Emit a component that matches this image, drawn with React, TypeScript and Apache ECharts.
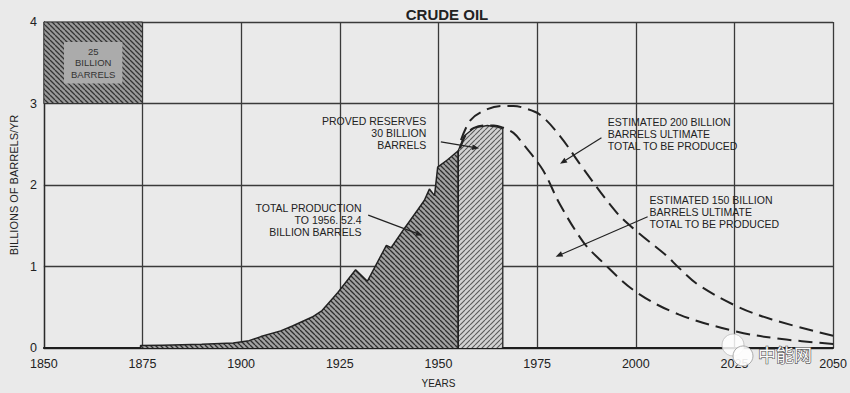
import React, { useEffect, useRef } from "react";
import * as echarts from "echarts";

// ---- data (years, billions of barrels per year) ----
const productionYears = [1874.5, 1874.5, 1880, 1890, 1898, 1902, 1905, 1910, 1913, 1918, 1920.5, 1924.5, 1929, 1932, 1936.8, 1938, 1941.4, 1944.8, 1946.4, 1947.7, 1949, 1949.8, 1952.3, 1955, 1955];
const productionValues = [0, 0.03, 0.035, 0.045, 0.06, 0.09, 0.14, 0.21, 0.27, 0.38, 0.46, 0.68, 0.96, 0.82, 1.26, 1.23, 1.47, 1.7, 1.81, 1.95, 1.87, 2.22, 2.31, 2.42, 0];

const reserveYears = [1955, 1955, 1956.5, 1959, 1962.4, 1965, 1966.3, 1966.3];
const reserveValues = [0, 2.42, 2.6, 2.7, 2.73, 2.71, 2.69, 0];

const est150Years = [1955.5, 1957, 1959, 1962, 1964, 1966, 1969, 1971.5, 1976.5, 1980.8, 1986.7, 1991, 2000, 2011, 2025.7, 2037, 2050];
const est150Values = [2.45, 2.62, 2.7, 2.73, 2.73, 2.71, 2.64, 2.5, 2.18, 1.76, 1.3, 1.08, 0.69, 0.41, 0.2, 0.11, 0.05];

const est200Years = [1955.7, 1958.2, 1962.4, 1966, 1969, 1972, 1975.8, 1980.8, 1986.7, 1995, 2000, 2007.6, 2011, 2016, 2025.7, 2034.5, 2050];
const est200Values = [2.55, 2.8, 2.93, 2.97, 2.97, 2.94, 2.86, 2.6, 2.2, 1.67, 1.44, 1.14, 0.98, 0.77, 0.51, 0.35, 0.15];

const boxYears = [1850, 1875];
const boxValues = [3, 4];
const boxLabel = "25\nBILLION\nBARRELS";

const xMin = 1850, xMax = 2050, xStep = 25;
const yMin = 0, yMax = 4, yStep = 1;

const title = "CRUDE OIL";
const xName = "YEARS";
const yName = "BILLIONS OF BARRELS/YR";

// annotations: text anchor [year, value], arrow from / to [year, value]
const annotations = [
  { text: "PROVED RESERVES\n30 BILLION\nBARRELS", at: [1946.9, 2.86], align: "right", from: [1950.6, 2.53], to: [1960.3, 2.45] },
  { text: "TOTAL PRODUCTION\nTO 1956. 52.4\nBILLION BARRELS", at: [1930.5, 1.79], align: "right", from: [1932.2, 1.63], to: [1946.0, 1.38] },
  { text: "ESTIMATED 200 BILLION\nBARRELS ULTIMATE\nTOTAL TO BE PRODUCED", at: [1992.9, 2.85], align: "left", from: [1991.3, 2.58], to: [1980.8, 2.26] },
  { text: "ESTIMATED 150 BILLION\nBARRELS ULTIMATE\nTOTAL TO BE PRODUCED", at: [2003.5, 1.89], align: "left", from: [2003.0, 1.61], to: [1979.7, 1.12] },
];

const FONT = '"Liberation Sans", Arial, Helvetica, sans-serif';
const INK = "#222";

function hatch(bg: string, fg: string, dir: "\\" | "/", size: number, lw: number) {
  const c = document.createElement("canvas");
  c.width = size;
  c.height = size;
  const ctx = c.getContext("2d")!;
  ctx.fillStyle = bg;
  ctx.fillRect(0, 0, size, size);
  ctx.strokeStyle = fg;
  ctx.lineWidth = lw;
  ctx.beginPath();
  for (let k = -1; k <= 1; k++) {
    if (dir === "\\") {
      ctx.moveTo(k * size, 0);
      ctx.lineTo(k * size + size, size);
    } else {
      ctx.moveTo(k * size, size);
      ctx.lineTo(k * size + size, 0);
    }
  }
  ctx.stroke();
  return { image: c.toDataURL(), repeat: "repeat", imageWidth: size, imageHeight: size } as any;
}

function zip(xs: number[], ys: number[]) {
  return xs.map((x, i) => [x, ys[i]]);
}

export default function App() {
  const ref = useRef<HTMLDivElement>(null);

  useEffect(() => {
    document.body.style.margin = "0";
    const chart = echarts.init(ref.current!, undefined, { renderer: "svg" });

    const darkHatch = hatch("#a2a2a2", "#2e2e2e", "\\", 5, 1.3);
    const boxHatch = hatch("#9a9a9a", "#333", "\\", 5, 1.3);
    const lightHatch = hatch("#d2d2d2", "#5a5a5a", "/", 5, 1.1);

    const option: any = {
      animation: false,
      backgroundColor: "#eaeaea",
      title: {
        text: title,
        left: 442,
        top: 2,
        textAlign: "center",
        textStyle: { fontFamily: FONT, fontWeight: "bold", fontSize: 15, color: INK },
      },
      grid: { left: 40, right: 15, top: 22, bottom: 43 },
      xAxis: {
        type: "value",
        min: xMin,
        max: xMax,
        interval: xStep,
        name: xName,
        nameLocation: "middle",
        nameGap: 30,
        nameTextStyle: { fontFamily: FONT, fontSize: 10, color: INK },
        axisLine: { show: true, onZero: false, lineStyle: { color: "#1e1e1e", width: 2 } },
        axisTick: { show: false },
        axisLabel: { fontFamily: FONT, fontSize: 12.5, color: INK, margin: 9, formatter: (v: number) => String(v) },
        splitLine: { show: true, lineStyle: { color: "#3a3a3a", width: 1.3 } },
      },
      yAxis: {
        type: "value",
        min: yMin,
        max: yMax,
        interval: yStep,
        name: yName,
        nameLocation: "middle",
        nameGap: 23,
        nameTextStyle: { fontFamily: FONT, fontSize: 11, color: INK },
        axisLine: { show: true, lineStyle: { color: "#2a2a2a", width: 1.3 } },
        axisTick: { show: false },
        axisLabel: { fontFamily: FONT, fontSize: 12.5, color: INK, margin: 7 },
        splitLine: { show: true, lineStyle: { color: "#3a3a3a", width: 1.3 } },
      },
      series: [
        {
          name: "production",
          type: "line",
          data: zip(productionYears, productionValues),
          showSymbol: false,
          lineStyle: { color: INK, width: 1.5 },
          areaStyle: { color: darkHatch, opacity: 1 },
          z: 3,
          markArea: {
            silent: true,
            itemStyle: { color: boxHatch, borderColor: "#333", borderWidth: 1 },
            label: {
              show: true,
              position: "inside",
              fontFamily: FONT,
              fontSize: 9.5,
              lineHeight: 11.5,
              color: "#333",
              backgroundColor: "#ababab",
              padding: [4, 7, 3, 7],
              align: "center",
            },
            data: [
              [
                { name: boxLabel, xAxis: boxYears[0], yAxis: boxValues[0] },
                { xAxis: boxYears[1], yAxis: boxValues[1] },
              ],
            ],
          },
        },
        {
          name: "reserves",
          type: "line",
          data: zip(reserveYears, reserveValues),
          showSymbol: false,
          lineStyle: { color: INK, width: 1.3 },
          areaStyle: { color: lightHatch, opacity: 1 },
          z: 3,
        },
        {
          name: "est150",
          type: "line",
          data: zip(est150Years, est150Values),
          smooth: 0.35,
          showSymbol: false,
          lineStyle: { color: INK, width: 2, type: [14, 7] },
          z: 4,
        },
        {
          name: "est200",
          type: "line",
          data: zip(est200Years, est200Values),
          smooth: 0.35,
          showSymbol: false,
          lineStyle: { color: INK, width: 2, type: [14, 7] },
          z: 4,
        },
      ],
    };

    chart.setOption(option);

    const px = (p: number[]) => chart.convertToPixel({ gridIndex: 0 }, p) as number[];
    const graphics: any[] = [];
    annotations.forEach((a) => {
      const [tx, ty] = px(a.at);
      graphics.push({
        type: "text",
        x: tx,
        y: ty,
        z: 10,
        style: {
          text: a.text,
          fill: INK,
          fontFamily: FONT,
          fontSize: 10.5,
          lineHeight: 12,
          align: a.align,
          verticalAlign: "top",
        },
      });
      const [x1, y1] = px(a.from);
      const [x2, y2] = px(a.to);
      const ang = Math.atan2(y2 - y1, x2 - x1);
      const L = 7, W = 2.8;
      const bx = x2 - L * Math.cos(ang);
      const by = y2 - L * Math.sin(ang);
      const nx = -Math.sin(ang) * W;
      const ny = Math.cos(ang) * W;
      graphics.push({
        type: "line",
        z: 10,
        shape: { x1, y1, x2: bx, y2: by },
        style: { stroke: INK, lineWidth: 1.2 },
      });
      graphics.push({
        type: "polygon",
        z: 10,
        shape: { points: [[x2, y2], [bx + nx, by + ny], [bx - nx, by - ny]] },
        style: { fill: INK },
      });
    });

    // watermark
    graphics.push(
      { type: "circle", z: 20, shape: { cx: 733, cy: 345, r: 11 }, style: { fill: "rgba(255,255,255,0.85)", stroke: "#bbb", lineWidth: 0.8 } },
      { type: "circle", z: 21, shape: { cx: 743, cy: 356, r: 10 }, style: { fill: "rgba(255,255,255,0.9)", stroke: "#999", lineWidth: 0.8 } },
      {
        type: "text",
        z: 22,
        x: 758,
        y: 354,
        style: {
          text: "中能网",
          fill: "#fafafa",
          stroke: "#555",
          lineWidth: 1.2,
          fontFamily: '"Noto Sans CJK SC", sans-serif',
          fontSize: 18,
          align: "left",
          verticalAlign: "middle",
        },
      }
    );

    chart.setOption({ graphic: graphics });

    return () => chart.dispose();
  }, []);

  return <div ref={ref} style={{ width: 850, height: 393 }} />;
}
